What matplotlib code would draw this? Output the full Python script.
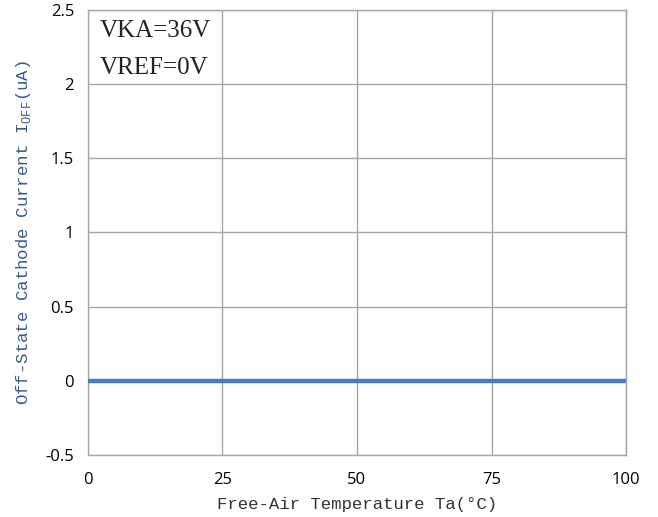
import matplotlib
matplotlib.use('Agg')
import matplotlib.pyplot as plt

temp = [0, 25, 50, 75, 100]
i_off = [0, 0, 0, 0, 0]
x_ticks = [0, 25, 50, 75, 100]
y_ticks = [-0.5, 0, 0.5, 1, 1.5, 2, 2.5]
y_tick_labels = ['-0.5', '0', '0.5', '1', '1.5', '2', '2.5']

fig = plt.figure(figsize=(6.58, 5.17), dpi=100)
ax = fig.add_axes([0.1337, 0.1199, 0.8177, 0.8608])

ax.plot(temp, i_off, color='#4a7ebb', linewidth=3.2, solid_capstyle='butt', zorder=3)

ax.set_xlim(0, 100)
ax.set_ylim(-0.5, 2.5)
ax.set_xticks(x_ticks)
ax.set_yticks(y_ticks)
ax.set_yticklabels(y_tick_labels)
ax.tick_params(length=0, labelsize=12, pad=10, labelcolor='#000000')
for lbl in ax.get_xticklabels() + ax.get_yticklabels():
    lbl.set_family('Open Sans')
ax.tick_params(axis='x', pad=12)
ax.grid(True, color='#a6a6a6', linewidth=1)
ax.set_axisbelow(True)
for s in ax.spines.values():
    s.set_color('#a6a6a6')
    s.set_linewidth(1)

ax.set_xlabel('Free-Air Temperature Ta(°C)', family='Liberation Mono',
              fontsize=12.5, color='#333333', labelpad=7)
ax.set_ylabel(r'Off-State Cathode Current I$_{\mathregular{OFF}}$(uA)',
              family='Liberation Mono', fontsize=12.5, color='#3a5a8c', labelpad=9)

ax.text(0.022, 0.978, 'VKA=36V\nVREF=0V', transform=ax.transAxes,
        family='Liberation Serif', fontsize=18, va='top', ha='left',
        linespacing=1.9, color='#222222')

fig.savefig('out.png', dpi=100)
